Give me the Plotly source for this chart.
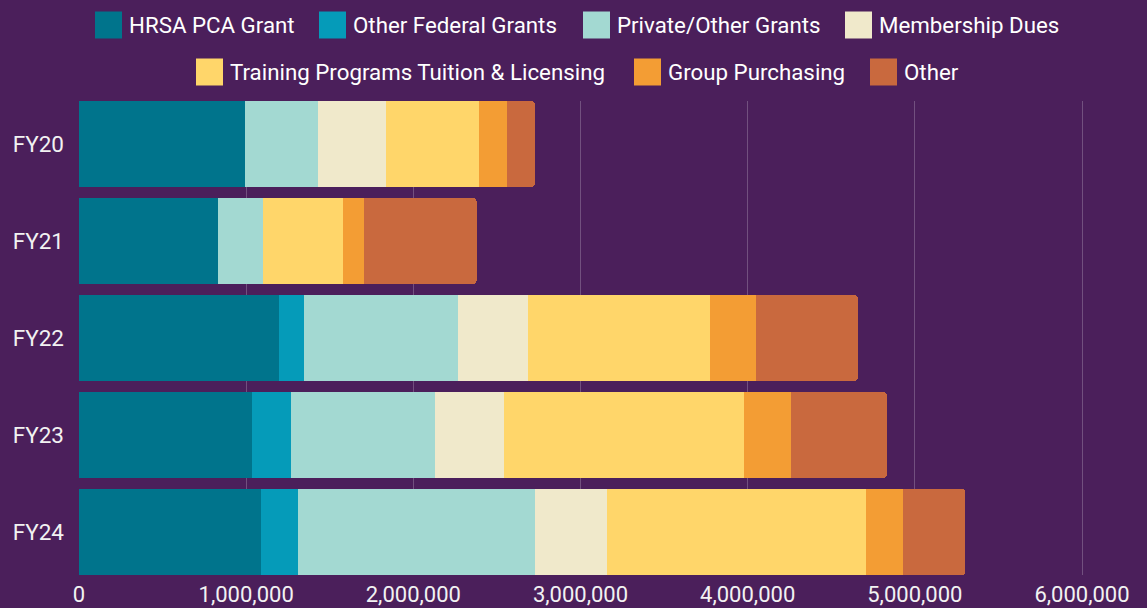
import plotly.graph_objects as go

categories = ["FY20", "FY21", "FY22", "FY23", "FY24"]

series_names = [
    "HRSA PCA Grant",
    "Other Federal Grants",
    "Private/Other Grants",
    "Membership Dues",
    "Training Programs Tuition & Licensing",
    "Group Purchasing",
    "Other",
]

hrsa_pca_grant = [990000, 834000, 1199000, 1032000, 1086000]
other_federal_grants = [0, 0, 149000, 239000, 226000]
private_other_grants = [442000, 269000, 920000, 861000, 1418000]
membership_dues = [403000, 0, 418000, 412000, 430000]
training_programs = [559000, 478000, 1089000, 1436000, 1548000]
group_purchasing = [167000, 126000, 276000, 280000, 220000]
other = [166000, 672000, 608000, 574000, 375000]

x_tick_values = [0, 1000000, 2000000, 3000000, 4000000, 5000000, 6000000]
x_tick_labels = ["0", "1,000,000", "2,000,000", "3,000,000", "4,000,000", "5,000,000", "6,000,000"]

colors = ["#00748C", "#059BB9", "#A3D9D2", "#F0E9CB", "#FFD66A", "#F39D34", "#C9693E"]
values = [hrsa_pca_grant, other_federal_grants, private_other_grants, membership_dues,
          training_programs, group_purchasing, other]

BG = "#4B1F5B"
FONT = "Roboto"
W, H = 1147, 608
ML, MR, MT, MB = 79, 60, 101, 33
PW, PH = W - ML - MR, H - MT - MB

fig = go.Figure()
for name, vals, col in zip(series_names, values, colors):
    fig.add_trace(go.Bar(
        y=categories, x=vals, name=name, orientation="h",
        marker=dict(color=col, line=dict(width=0)),
        showlegend=False,
    ))

# Manual legend (large square swatches)
legend_rows = [
    (25, [(95, 0), (319, 1), (583, 2), (845, 3)]),
    (72, [(196, 4), (634, 5), (870, 6)]),
]
shapes = []
annotations = []
for yc, items in legend_rows:
    for x0, idx in items:
        shapes.append(dict(
            type="rect", xref="paper", yref="paper",
            x0=(x0 - ML) / PW, x1=(x0 + 27 - ML) / PW,
            y0=1 + (MT - (yc + 13.5)) / PH, y1=1 + (MT - (yc - 13.5)) / PH,
            fillcolor=colors[idx], line=dict(width=0), layer="above",
        ))
        annotations.append(dict(
            text=series_names[idx], xref="paper", yref="paper",
            x=(x0 + 32 - ML) / PW, y=1 + (MT - yc) / PH,
            xanchor="left", yanchor="middle", showarrow=False,
            font=dict(family=FONT, size=22.3, color="#FFFFFF"),
        ))

fig.update_layout(
    width=W, height=H,
    barmode="stack",
    bargap=0.113,
    barcornerradius=4,
    paper_bgcolor=BG, plot_bgcolor=BG,
    margin=dict(l=ML, r=MR, t=MT, b=MB),
    font=dict(family=FONT, size=22, color="#F2F2F2"),
    shapes=shapes,
    annotations=annotations,
    xaxis=dict(
        range=[0, 6000000 * PW / 1003],
        tickvals=x_tick_values, ticktext=x_tick_labels,
        showgrid=True, gridcolor="rgba(255,255,255,0.22)", gridwidth=1,
        zeroline=False, showline=False, ticks="",
        automargin=False,
        ticklabelstandoff=4,
        tickfont=dict(family=FONT, size=22, color="#F2F2F2"),
    ),
    yaxis=dict(
        categoryorder="array", categoryarray=categories,
        range=[4.4435, -0.4435],
        showgrid=False, zeroline=False, showline=False, ticks="",
        automargin=False,
        ticklabelstandoff=14,
        tickfont=dict(family=FONT, size=22.5, color="#F2F2F2"),
    ),
)

fig.write_html(
    "out.html",
    config={"displayModeBar": False},
    post_script="document.body.style.margin='0';document.body.style.background='" + BG + "';",
)
